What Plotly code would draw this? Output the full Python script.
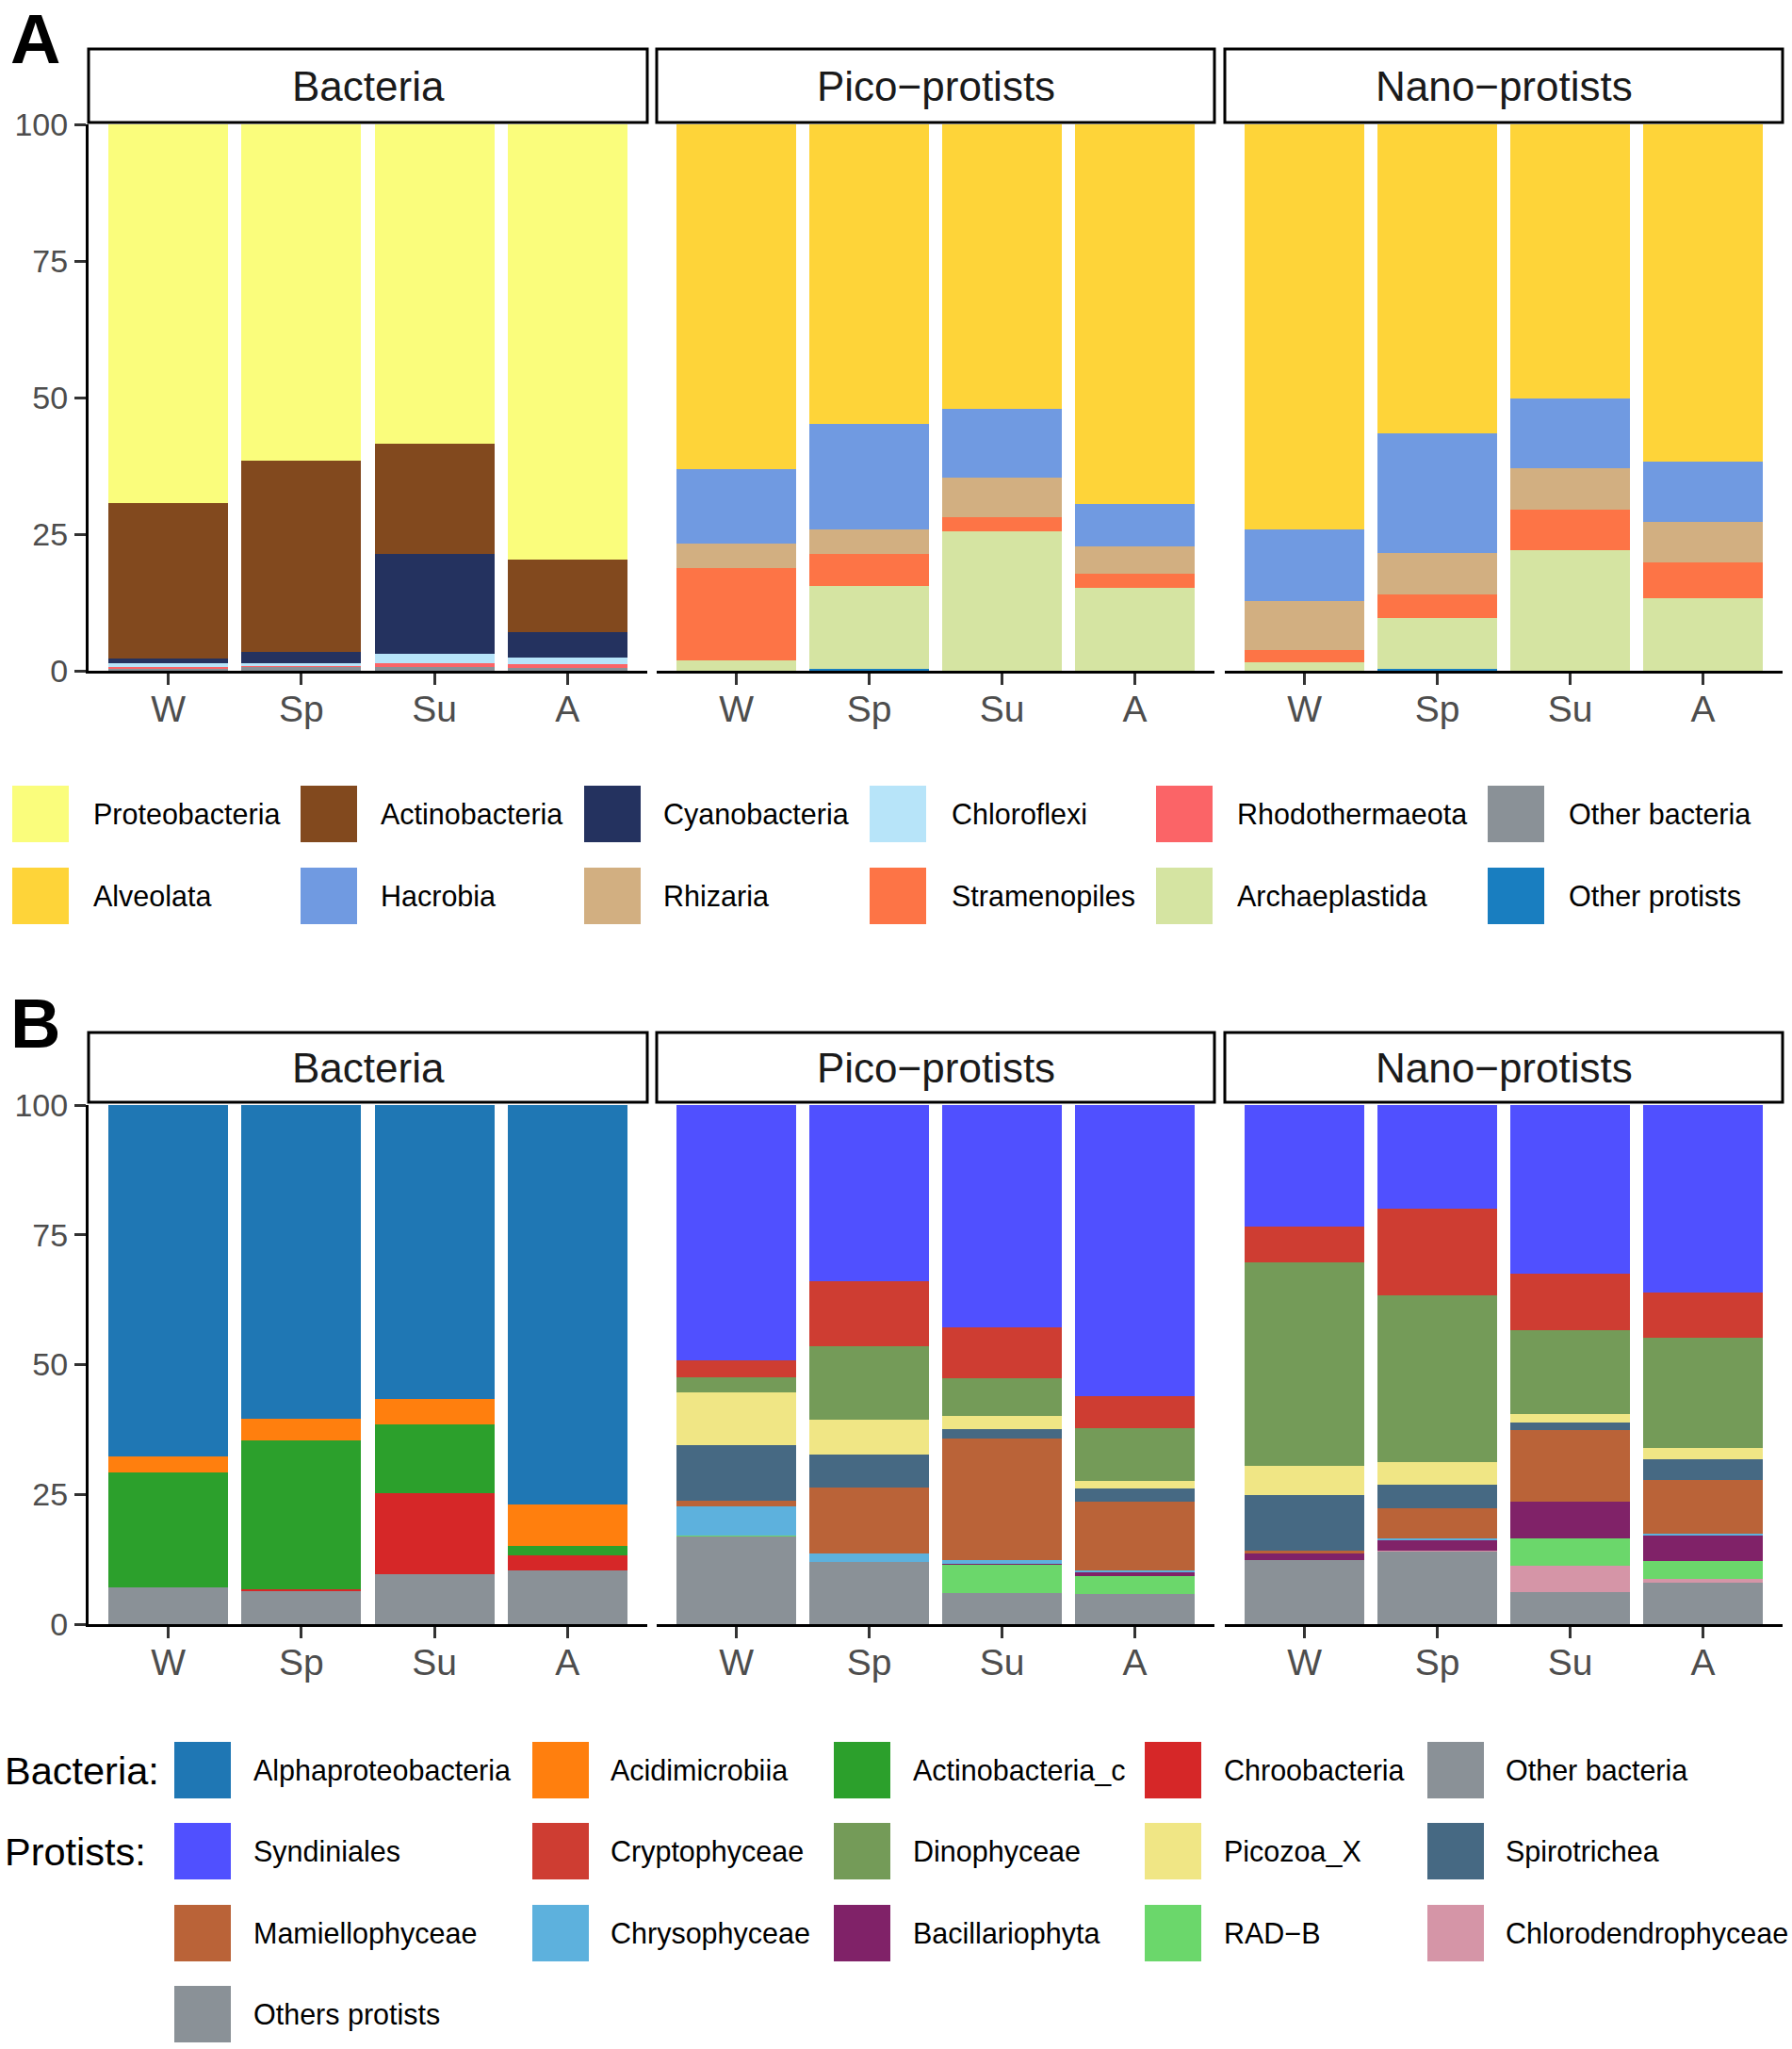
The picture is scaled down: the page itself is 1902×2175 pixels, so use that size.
import plotly.graph_objects as go

W, H = 1902, 2175

seasons = ["W", "Sp", "Su", "A"]
y_ticks = [0, 25, 50, 75, 100]
facets = ["Bacteria", "Pico\u2212protists", "Nano\u2212protists"]

# ---------------- Panel A : bacteria facet (values in %) ----------------
proteobacteria = [69.3, 61.5, 58.4, 79.7]
actinobacteria = [28.5, 35.0, 20.3, 13.3]
cyanobacteria = [0.9, 2.1, 18.2, 4.6]
chloroflexi = [0.6, 0.5, 1.8, 1.2]
rhodothermaeota = [0.2, 0.1, 0.6, 0.7]
other_bacteria_a = [0.5, 0.8, 0.7, 0.5]

# ---------------- Panel A : pico-protists ----------------
pico_alveolata = [63.1, 54.8, 52.1, 69.5]
pico_hacrobia = [13.7, 19.3, 12.6, 7.8]
pico_rhizaria = [4.4, 4.6, 7.2, 5.0]
pico_stramenopiles = [16.9, 5.8, 2.6, 2.6]
pico_archaeplastida = [1.9, 15.2, 25.5, 15.1]
pico_other_protists = [0.0, 0.3, 0.0, 0.0]

# ---------------- Panel A : nano-protists ----------------
nano_alveolata = [74.1, 56.6, 50.1, 61.8]
nano_hacrobia = [13.2, 21.9, 12.8, 10.9]
nano_rhizaria = [8.9, 7.6, 7.7, 7.4]
nano_stramenopiles = [2.2, 4.2, 7.4, 6.6]
nano_archaeplastida = [1.6, 9.3, 22.0, 13.3]
nano_other_protists = [0.0, 0.4, 0.0, 0.0]

# ---------------- Panel B : bacteria ----------------
alphaproteobacteria = [67.7, 60.4, 56.6, 77.0]
acidimicrobiia = [3.0, 4.2, 4.9, 7.9]
actinobacteria_c = [22.3, 28.7, 13.2, 1.9]
chroobacteria = [0.0, 0.2, 15.6, 2.9]
other_bacteria_b = [7.0, 6.5, 9.7, 10.3]

# ---------------- Panel B : pico-protists ----------------
pico_syndiniales = [49.2, 33.9, 42.9, 56.1]
pico_cryptophyceae = [3.2, 12.5, 9.8, 6.1]
pico_dinophyceae = [3.0, 14.3, 7.1, 10.2]
pico_picozoa = [10.1, 6.6, 2.7, 1.4]
pico_spirotrichea = [10.7, 6.3, 1.8, 2.6]
pico_mamiellophyceae = [1.2, 12.8, 23.4, 13.3]
pico_chrysophyceae = [5.5, 1.7, 0.6, 0.4]
pico_bacillariophyta = [0.0, 0.0, 0.2, 0.7]
pico_radb = [0.1, 0.0, 5.6, 3.4]
pico_chlorodendrophyceae = [0.0, 0.0, 0.0, 0.0]
pico_others_protists = [17.0, 11.9, 5.9, 5.8]

# ---------------- Panel B : nano-protists ----------------
nano_syndiniales = [23.5, 20.0, 32.5, 36.2]
nano_cryptophyceae = [6.8, 16.7, 10.9, 8.6]
nano_dinophyceae = [39.2, 32.0, 16.2, 21.3]
nano_picozoa = [5.6, 4.5, 1.5, 2.1]
nano_spirotrichea = [10.7, 4.5, 1.5, 4.0]
nano_mamiellophyceae = [0.6, 5.8, 13.8, 10.3]
nano_chrysophyceae = [0.0, 0.4, 0.0, 0.4]
nano_bacillariophyta = [1.3, 1.9, 7.1, 5.0]
nano_radb = [0.0, 0.0, 5.3, 3.4]
nano_chlorodendrophyceae = [0.0, 0.2, 5.1, 0.8]
nano_others_protists = [12.3, 14.0, 6.1, 7.9]

# ---------------- names & colours (legend order = top of stack first) ----------------
a_bact_names = ["Proteobacteria", "Actinobacteria", "Cyanobacteria", "Chloroflexi",
                "Rhodothermaeota", "Other bacteria"]
a_bact_colors = ["#FAFD7C", "#82491E", "#24325F", "#B7E4F9", "#FB6467", "#8A9197"]
a_prot_names = ["Alveolata", "Hacrobia", "Rhizaria", "Stramenopiles",
                "Archaeplastida", "Other protists"]
a_prot_colors = ["#FED439", "#709AE1", "#D2AF81", "#FD7446", "#D5E4A2", "#197EC0"]

b_bact_names = ["Alphaproteobacteria", "Acidimicrobiia", "Actinobacteria_c",
                "Chroobacteria", "Other bacteria"]
b_bact_colors = ["#1F77B4", "#FF7F0E", "#2CA02C", "#D62728", "#8A9197"]
b_prot_names = ["Syndiniales", "Cryptophyceae", "Dinophyceae", "Picozoa_X", "Spirotrichea",
                "Mamiellophyceae", "Chrysophyceae", "Bacillariophyta", "RAD\u2212B",
                "Chlorodendrophyceae", "Others protists"]
b_prot_colors = ["#5050FF", "#CE3D32", "#749B58", "#F0E685", "#466983", "#BA6338",
                 "#5DB1DD", "#802268", "#6BD76B", "#D595A7", "#8A9197"]

a_bact_series = [proteobacteria, actinobacteria, cyanobacteria, chloroflexi,
                 rhodothermaeota, other_bacteria_a]
a_pico_series = [pico_alveolata, pico_hacrobia, pico_rhizaria, pico_stramenopiles,
                 pico_archaeplastida, pico_other_protists]
a_nano_series = [nano_alveolata, nano_hacrobia, nano_rhizaria, nano_stramenopiles,
                 nano_archaeplastida, nano_other_protists]
b_bact_series = [alphaproteobacteria, acidimicrobiia, actinobacteria_c, chroobacteria,
                 other_bacteria_b]
b_pico_series = [pico_syndiniales, pico_cryptophyceae, pico_dinophyceae, pico_picozoa,
                 pico_spirotrichea, pico_mamiellophyceae, pico_chrysophyceae,
                 pico_bacillariophyta, pico_radb, pico_chlorodendrophyceae,
                 pico_others_protists]
b_nano_series = [nano_syndiniales, nano_cryptophyceae, nano_dinophyceae, nano_picozoa,
                 nano_spirotrichea, nano_mamiellophyceae, nano_chrysophyceae,
                 nano_bacillariophyta, nano_radb, nano_chlorodendrophyceae,
                 nano_others_protists]

panels = [
    (a_bact_names, a_bact_colors, a_bact_series),
    (a_prot_names, a_prot_colors, a_pico_series),
    (a_prot_names, a_prot_colors, a_nano_series),
    (b_bact_names, b_bact_colors, b_bact_series),
    (b_prot_names, b_prot_colors, b_pico_series),
    (b_prot_names, b_prot_colors, b_nano_series),
]

# ---------------- geometry (pixels) ----------------
FONT = "Liberation Sans, Arial, Helvetica, sans-serif"
panel_x = [(94, 687), (697, 1289), (1300, 1892)]
row_y = [(132, 712), (1173, 1724)]      # top, bottom of plotting area
strip_y = [(52, 130), (1096, 1170)]


def fx(p):
    return p / W


def fy(p):
    return 1 - p / H


fig = go.Figure()
layout = dict(
    template="none",
    width=W, height=H, margin=dict(l=0, r=0, t=0, b=0, pad=0, autoexpand=False),
    paper_bgcolor="white", plot_bgcolor="white",
    barmode="stack", bargap=0.1, showlegend=False,
    font=dict(family=FONT, color="black"),
)

shapes = []
annotations = []

for i, (names, colors, series) in enumerate(panels):
    r, c = divmod(i, 3)
    k = "" if i == 0 else str(i + 1)
    # stack from bottom (last legend entry) upward
    for name, col, vals in reversed(list(zip(names, colors, series))):
        fig.add_trace(go.Bar(x=seasons, y=vals, name=name, marker_color=col,
                             marker_line_width=0, xaxis="x" + k, yaxis="y" + k,
                             hoverinfo="name+y"))
    x0, x1 = panel_x[c]
    yt, yb = row_y[r]
    layout["xaxis" + k] = dict(
        domain=[fx(x0), fx(x1)], anchor="y" + k, type="category", automargin=False,
        categoryorder="array", categoryarray=seasons, range=[-0.6, 3.6],
        showline=True, linecolor="black", linewidth=3, showgrid=False, zeroline=False,
        ticks="outside", ticklen=12, tickwidth=3, tickcolor="#333333",
        ticklabelstandoff=-8,
        tickfont=dict(size=39, color="#4D4D4D", family=FONT),
    )
    first = (c == 0)
    layout["yaxis" + k] = dict(
        domain=[fy(yb), fy(yt)], anchor="x" + k, range=[0, 100], automargin=False,
        tickvals=y_ticks, showgrid=False, zeroline=False,
        showline=first, linecolor="black", linewidth=3,
        ticks="outside" if first else "", ticklen=12, tickwidth=3, tickcolor="#333333",
        showticklabels=first,
        tickfont=dict(size=34, color="#4D4D4D", family=FONT),
    )
    # facet strip
    sy0, sy1 = strip_y[r]
    shapes.append(dict(type="rect", xref="paper", yref="paper",
                       x0=fx(x0), x1=fx(x1), y0=fy(sy1), y1=fy(sy0),
                       line=dict(color="black", width=3), fillcolor="white"))
    annotations.append(dict(text=facets[c], xref="paper", yref="paper",
                            x=fx((x0 + x1) / 2), y=fy((sy0 + sy1) / 2),
                            xanchor="center", yanchor="middle", showarrow=False,
                            font=dict(size=44, color="#1A1A1A", family=FONT)))

# panel tags
for tag, cy in (("A", 41.6), ("B", 1087)):
    annotations.append(dict(text="<b>%s</b>" % tag, xref="paper", yref="paper",
                            x=fx(37), y=fy(cy), xanchor="center", yanchor="middle",
                            showarrow=False, font=dict(size=74, color="black", family=FONT)))


def legend_item(name, color, kx, tx, cy, size=60):
    shapes.append(dict(type="rect", xref="paper", yref="paper",
                       x0=fx(kx), x1=fx(kx + size), y0=fy(cy + size / 2), y1=fy(cy - size / 2),
                       line=dict(width=0), fillcolor=color))
    annotations.append(dict(text=name, xref="paper", yref="paper", x=fx(tx), y=fy(cy),
                            xanchor="left", yanchor="middle", showarrow=False,
                            font=dict(size=30.5, color="black", family=FONT)))


# legend A
la_key_x = [13, 319, 620, 923, 1227, 1579]
la_txt_x = [97, 402, 702, 1008, 1311, 1663]
la_rows = [864, 951]
for j in range(6):
    legend_item(a_bact_names[j], a_bact_colors[j], la_key_x[j], la_txt_x[j], la_rows[0])
    legend_item(a_prot_names[j], a_prot_colors[j], la_key_x[j], la_txt_x[j], la_rows[1])

# legend B
lb_key_x = [185, 565, 885, 1215, 1515]
lb_txt_x = [267, 646, 967, 1297, 1596]
lb_rows = [1879, 1965, 2052, 2138]
for j, (n, col) in enumerate(zip(b_bact_names, b_bact_colors)):
    legend_item(n, col, lb_key_x[j], lb_txt_x[j], lb_rows[0])
for j, (n, col) in enumerate(zip(b_prot_names, b_prot_colors)):
    rr, cc = divmod(j, 5)
    legend_item(n, col, lb_key_x[cc], lb_txt_x[cc], lb_rows[1 + rr])
for lab, cy in (("Bacteria:", lb_rows[0]), ("Protists:", lb_rows[1])):
    annotations.append(dict(text=lab, xref="paper", yref="paper", x=fx(3), y=fy(cy),
                            xanchor="left", yanchor="middle", showarrow=False,
                            font=dict(size=41.5, color="black", family=FONT)))

layout["shapes"] = shapes
layout["annotations"] = annotations
fig.update_layout(**layout)

page_fix = (
    "var gd=document.getElementById('{plot_id}');"
    "gd.style.position='absolute';gd.style.left='0px';gd.style.top='0px';"
    "document.documentElement.style.margin='0px';"
    "document.documentElement.style.overflow='hidden';"
    "document.body.style.margin='0px';"
    "document.body.style.overflow='hidden';"
    "document.body.style.height='%dpx';" % H
)
fig.write_html("out.html", config={"displayModeBar": False}, post_script=page_fix)
